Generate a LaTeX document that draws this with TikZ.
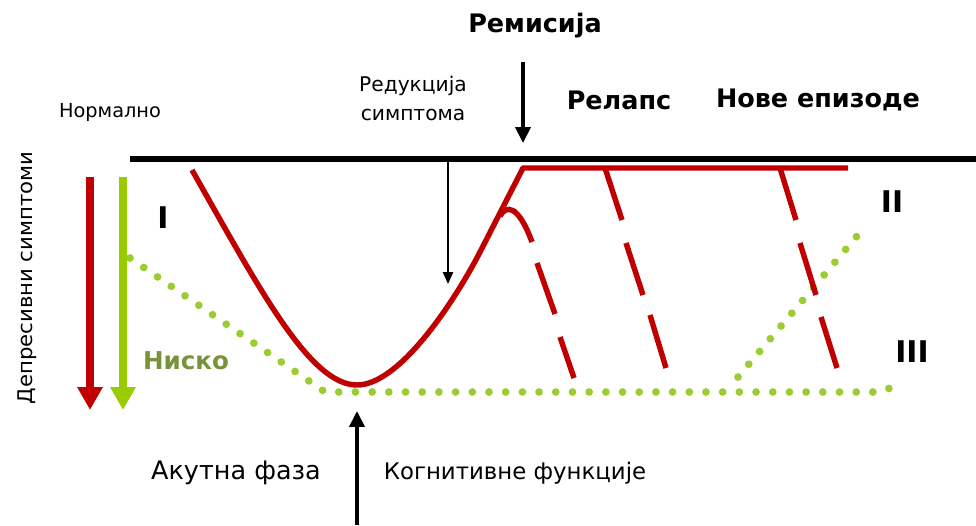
\documentclass[tikz,border=0pt]{standalone}
\usepackage{fontspec}
\setmainfont{DejaVu Sans}
\usetikzlibrary{arrows.meta}
\definecolor{dred}{HTML}{C00000}
\definecolor{lgreen}{HTML}{99CC00}
\definecolor{dotgreen}{HTML}{9ACD32}
\definecolor{olive}{HTML}{77933C}
\tikzset{
  redline/.style={draw=dred, line width=3.1pt},
  dotline/.style={draw=dotgreen, line width=4.4pt, line cap=round, dash pattern=on 0pt off 9.5pt},
  bigarrow/.style={line width=4pt, -{Triangle[width=13.6pt,length=13pt]}},
  blackarrow/.style={line width=2pt, -{Triangle[width=8.5pt,length=9pt]}},
  thinarrow/.style={line width=1.2pt, -{Triangle[width=5.8pt,length=6.8pt]}},
  boldlbl/.style={font=\fontsize{14.5}{17}\selectfont\bfseries, inner sep=0pt},
  smalllbl/.style={font=\fontsize{11}{16}\selectfont, inner sep=0pt},
  romanlbl/.style={font=\fontsize{17}{20}\selectfont\bfseries, inner sep=0pt},
}
\begin{document}
\begin{tikzpicture}[x=0.02cm,y=-0.02cm]
\useasboundingbox (0,0) rectangle (976,525);
% top black line
\draw[line width=2.9pt] (130,159) coordinate (tl) -- (976,159) coordinate (tr);
% green dotted lines
\draw[dotline] (130,258) coordinate (g1) -- (325,392) coordinate (g2) -- (880,392) coordinate (g3) -- (895,386) coordinate (g4);
\draw[dotline] (738,377) coordinate (g5) -- (857,236) coordinate (g6);
% red curve
\draw[redline, line join=round] (192,170) coordinate (r0) .. controls (260,290) and (310,385) .. (357,385) coordinate (rmin)
  .. controls (400,385) and (455,300) .. (479,254) -- (523,168) coordinate (rtop) -- (848,168) coordinate (rend);
% branch
\draw[redline] (500,216) .. controls (506,205) and (518,204) .. (532,242);
% dashed relapse lines
\draw[redline] (537,263) -- (555,314);
\draw[redline] (560,337) -- (574,378);
\draw[redline] (605,168) -- (622,220);
\draw[redline] (626,243) -- (643,295);
\draw[redline] (650,315) -- (666,368);
\draw[redline] (780,168) -- (796,220);
\draw[redline] (800,243) -- (816,295);
\draw[redline] (821,317) -- (837,368);
% vertical arrows left
\draw[bigarrow, dred] (90,177) coordinate (ra) -- (90,410) coordinate (rb);
\draw[bigarrow, lgreen] (123,177) coordinate (ga) -- (123,410) coordinate (gb);
% labels
\node[boldlbl] (rem) at (535,26) {Ремисија};
\node[boldlbl] (rel) at (619,100) {Релапс};
\node[boldlbl] (nove) at (818,100) {Нове епизоде};
\node[smalllbl] (norm) at (110,112) {Нормално};
\node[font=\fontsize{11.5}{16.5}\selectfont, inner sep=0pt, align=center] (red) at (413,98) {Редукција\\симптома};
\node[romanlbl] (i1) at (163,218) {I};
\node[romanlbl] (i2) at (892,202) {II};
\node[romanlbl] (i3) at (912,352) {III};
\node[font=\fontsize{14}{17}\selectfont\bfseries, text=olive, inner sep=0pt] (nis) at (186,361) {Ниско};
\node[font=\fontsize{14.5}{17}\selectfont, inner sep=0pt] (ak) at (236,473) {Акутна фаза};
\node[font=\fontsize{13}{16}\selectfont, inner sep=0pt] (kog) at (515,473) {Когнитивне функције};
\node[font=\fontsize{11.5}{13}\selectfont, inner sep=0pt, rotate=90, xscale=1.05] (dep) at (27,278) {Депресивни симптоми};
% black arrows
\coordinate (remtop) at (523,62);
\coordinate (remtip) at (523,143);
\draw[blackarrow] (remtop) -- (remtip);
\coordinate (redtop) at (448,160);
\coordinate (redtip) at (448,284);
\draw[thinarrow] (redtop) -- (redtip);
\coordinate (kogbot) at (357,525);
\coordinate (kogtip) at (357,411);
\draw[blackarrow] (kogbot) -- (kogtip);
\end{tikzpicture}
\end{document}
